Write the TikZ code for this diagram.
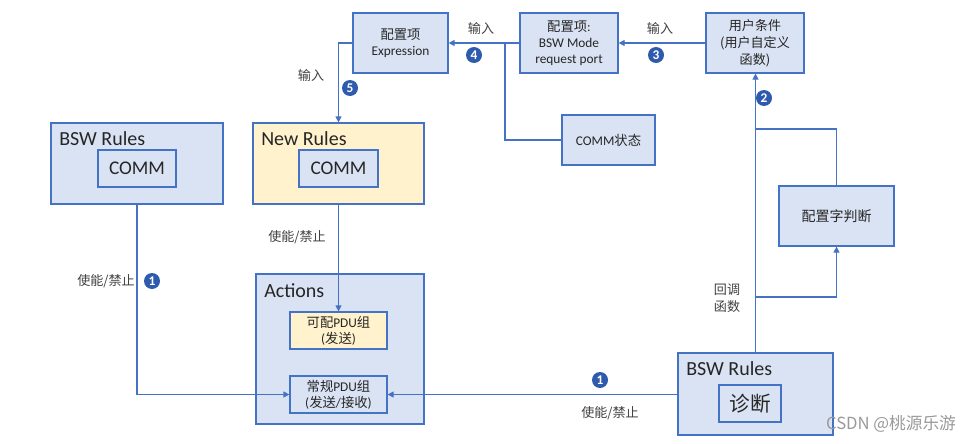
\documentclass[tikz,border=0pt]{standalone}
\usepackage{fontspec}
\setmainfont{Carlito}
\newfontfamily\cjk{Noto Sans CJK SC}
\newcommand\zhtxt[1]{{\cjk #1}}
\usetikzlibrary{arrows.meta}
\definecolor{boxfill}{HTML}{DAE3F3}
\definecolor{boxline}{HTML}{4472C4}
\definecolor{yel}{HTML}{FFF2CC}
\definecolor{lin}{HTML}{4472C4}
\definecolor{dot}{HTML}{2F5BAE}
\definecolor{txt}{HTML}{262626}
\definecolor{lbl}{HTML}{404040}
\begin{document}
\begin{tikzpicture}[x=0.75pt,y=-0.75pt,
  box/.style={draw=boxline,fill=boxfill,line width=0.9pt,inner sep=1pt,align=center,text=txt},
  ybox/.style={box,fill=yel},
  conn/.style={draw=lin,line width=0.9pt},
  arr/.style={conn,-{Triangle[length=4.5pt,width=4.5pt]}},
  lab/.style={font=\cjk\fontsize{9.8}{12.5}\selectfont,text=lbl,inner sep=0pt,align=center},
  num/.style={circle,fill=dot,text=white,inner sep=0pt,minimum size=12pt,font=\bfseries\fontsize{10}{10}\selectfont},
  ttl/.style={anchor=west,inner sep=0pt,font=\fontsize{15}{17}\selectfont,text=txt},
  small/.style={font=\fontsize{10}{12}\selectfont},
  inner/.style={box,font=\fontsize{14.5}{16}\selectfont}
]
\useasboundingbox (0,0) rectangle (975,443);

% top row
\node[box,small,minimum width=71.25pt,minimum height=45pt] (expr) at (400.5,43) {\zhtxt{配置项}\\Expression};
\node[box,small,minimum width=73.5pt,minimum height=45pt] (port) at (569,43) {\zhtxt{配置项}:\\BSW Mode\\request port};
\node[box,font=\cjk\fontsize{9.8}{12.6}\selectfont,minimum width=73.5pt,minimum height=45pt] (user) at (755,43) {用户条件\\(用户自定义\\函数)};
\node[box,small,minimum width=69.75pt,minimum height=37.5pt] (commst) at (608.5,140) {COMM\zhtxt{状态}};
\node[box,font=\cjk\fontsize{10.5}{12}\selectfont,minimum width=86.25pt,minimum height=45pt] (judge) at (836.5,216) {配置字判断};

% left rules
\node[box,minimum width=129pt,minimum height=60.75pt] (bswL) at (137,163.5) {};
\node[ttl] (bswLt) at (59,139) {BSW Rules};
\node[inner,minimum width=58.5pt,minimum height=27.75pt] (commL) at (137,168.5) {COMM};

\node[ybox,minimum width=128.25pt,minimum height=60.75pt] (newR) at (338.5,163.5) {};
\node[ttl] (newRt) at (261,139) {New Rules};
\node[inner,minimum width=59.25pt,minimum height=27.75pt] (commN) at (338.5,168.5) {COMM};

% actions
\node[box,minimum width=126pt,minimum height=112.5pt] (act) at (340,349) {};
\node[ttl] (actt) at (264,291) {Actions};
\node[ybox,small,minimum width=72.75pt,minimum height=27.75pt] (pdu1) at (338.5,330.5) {\zhtxt{可配}PDU\zhtxt{组}\\(\zhtxt{发送})};
\node[box,small,minimum width=72.75pt,minimum height=27.75pt] (pdu2) at (338.5,394.5) {\zhtxt{常规}PDU\zhtxt{组}\\(\zhtxt{发送}/\zhtxt{接收})};

% right rules
\node[box,minimum width=116.25pt,minimum height=61.5pt] (bswR) at (755.5,394) {};
\node[ttl] (bswRt) at (686,369) {BSW Rules};
\node[box,font=\cjk\fontsize{15.5}{17}\selectfont,minimum width=46.5pt,minimum height=27.75pt] (diag) at (750,403.5) {诊断};

% junctions
\coordinate (j) at (505,43);
\coordinate (a) at (756,129);
\coordinate (b) at (756,297);

% connectors
\draw[arr] (user.west) -- (port.east);
\draw[arr] (port.west) -- (expr.east);
\draw[conn] (j) |- (commst.west);
\draw[arr] (expr.west) -| (newR.north);
\draw[arr] (newR.south) -- (pdu1.north);
\draw[arr] (bswL.south) |- (pdu2.west);
\draw[arr] (bswR.west |- pdu2.east) -- (pdu2.east);
\draw[arr] (bswR.north) -- (bswR.north |- user.south);
\draw[conn] (a) -| (judge.north);
\draw[arr] (b) -| (judge.south);

% labels
\node[lab] (l1) at (481,29) {输入};
\node[lab] (l2) at (660,29) {输入};
\node[lab] (l3) at (311,76) {输入};
\node[lab] (l4) at (297,237) {使能/禁止};
\node[lab] (l5) at (106,281) {使能/禁止};
\node[lab] (l6) at (610,413) {使能/禁止};
\node[lab] (l7) at (727,298) {回调\\函数};

\node[num] (n4) at (474,55) {4};
\node[num] (n3) at (656,55) {3};
\node[num] (n5) at (350,88) {5};
\node[num] (n2) at (764,98) {2};
\node[num] (n1a) at (152,281) {1};
\node[num] (n1b) at (600,380) {1};

\node[font=\cjk\fontsize{12.5}{13}\selectfont,text=black!40] (wm) at (891,424) {CSDN @桃源乐游};
\end{tikzpicture}
\end{document}
